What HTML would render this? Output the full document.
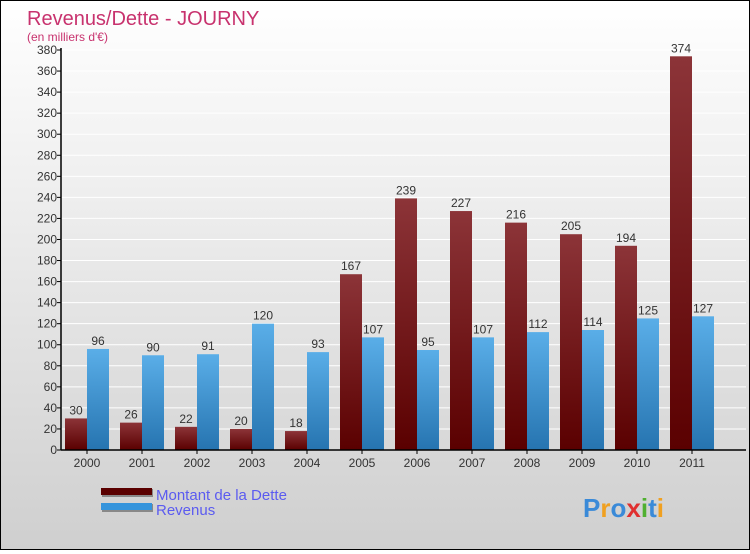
<!DOCTYPE html>
<html><head><meta charset="utf-8"><style>
body{margin:0;width:750px;height:550px;overflow:hidden;font-family:"Liberation Sans",sans-serif}
#wrap{position:relative;width:748px;height:548px;border:1px solid #000;background:linear-gradient(#ffffff,#cfcfcf)}
</style></head><body>
<div id="wrap">
<svg id="chart" width="748" height="548"></svg>
</div>
<script>
const years=["2000","2001","2002","2003","2004","2005","2006","2007","2008","2009","2010","2011"];
const dette=[30,26,22,20,18,167,239,227,216,205,194,374];
const revenus=[96,90,91,120,93,107,95,107,112,114,125,127];
const yTicks=[0,20,40,60,80,100,120,140,160,180,200,220,240,260,280,300,320,340,360,380];
const NS="http://www.w3.org/2000/svg";
const svg=document.getElementById('chart');
const x0=60,y0=449,pxPer=400/380,gw=55;
const y=v=>y0-v*pxPer;
const gx=i=>x0+4+i*gw;
function el(t,a,p){const e=document.createElementNS(NS,t);for(const k in a)e.setAttribute(k,a[k]);(p||svg).appendChild(e);return e;}
const defs=el('defs',{});
const g1=el('linearGradient',{id:'gd',x1:0,y1:0,x2:0,y2:1},defs);
el('stop',{offset:'0','stop-color':'#8c3438'},g1);el('stop',{offset:'1','stop-color':'#5a0000'},g1);
const g2=el('linearGradient',{id:'gr',x1:0,y1:0,x2:0,y2:1},defs);
el('stop',{offset:'0','stop-color':'#5aaee8'},g2);el('stop',{offset:'1','stop-color':'#2674b0'},g2);
let t=el('text',{x:26,y:24,'font-size':20,fill:'#c8326e'});t.textContent='Revenus/Dette - JOURNY';

t=el('text',{x:26,y:40,'font-size':12,fill:'#c8326e'});t.textContent="(en milliers d'€)";

yTicks.forEach(v=>{
 const gl=el('line',{x1:x0,x2:745,y1:y(v),y2:y(v),stroke:'#fff','stroke-width':1});
 
 el('line',{x1:x0-4,x2:x0,y1:y(v),y2:y(v),stroke:'#000'});
 const tl=el('text',{x:x0-4,y:y(v)+4,'font-size':12,fill:'#333','text-anchor':'end'});tl.textContent=v;
 
});
years.forEach((yr,i)=>{
 const bx=gx(i);
 const b1=el('rect',{x:bx,y:y(dette[i]),width:22,height:dette[i]*pxPer,fill:'url(#gd)'});
 
 const b2=el('rect',{x:bx+22,y:y(revenus[i]),width:22,height:revenus[i]*pxPer,fill:'url(#gr)'});
 
 let l=el('text',{x:bx+11,y:y(dette[i])-4,'font-size':12,fill:'#333','text-anchor':'middle'});l.textContent=dette[i];
 
 l=el('text',{x:bx+33,y:y(revenus[i])-4,'font-size':12,fill:'#333','text-anchor':'middle'});l.textContent=revenus[i];
 
 el('line',{x1:bx+22,x2:bx+22,y1:y0,y2:y0+4,stroke:'#000'});
 l=el('text',{x:bx+22,y:y0+17,'font-size':12,fill:'#333','text-anchor':'middle'});l.textContent=yr;
 
});
el('line',{x1:x0,x2:x0,y1:y(380)-2,y2:y0,stroke:'#000','stroke-width':1.5});
el('line',{x1:x0,x2:745,y1:y0,y2:y0,stroke:'#000','stroke-width':1.5});
const lg=[['#5a0000','Montant de la Dette',489],['#3594dc','Revenus',504]];
lg.forEach(([c,n,yy],k)=>{
 el('rect',{x:101,y:yy-1,width:51,height:8,fill:'#888'});
 const r=el('rect',{x:100,y:yy-2,width:51,height:7,fill:c});
 
 const tt=el('text',{x:155,y:yy+10,'font-size':15,fill:'#5b5bf0'});tt.textContent=n;
 
});
const pr=el('text',{x:582,y:516,'font-size':26,'font-weight':'bold'});

[['P','#3a8ad8'],['r','#f0a020'],['o','#3a8ad8'],['x','#e03030'],['i','#50b030'],['t','#3a8ad8'],['i','#f0a020']].forEach(([ch,c])=>{
 const s=el('tspan',{fill:c},pr);s.textContent=ch;});
</script>
</body></html>
